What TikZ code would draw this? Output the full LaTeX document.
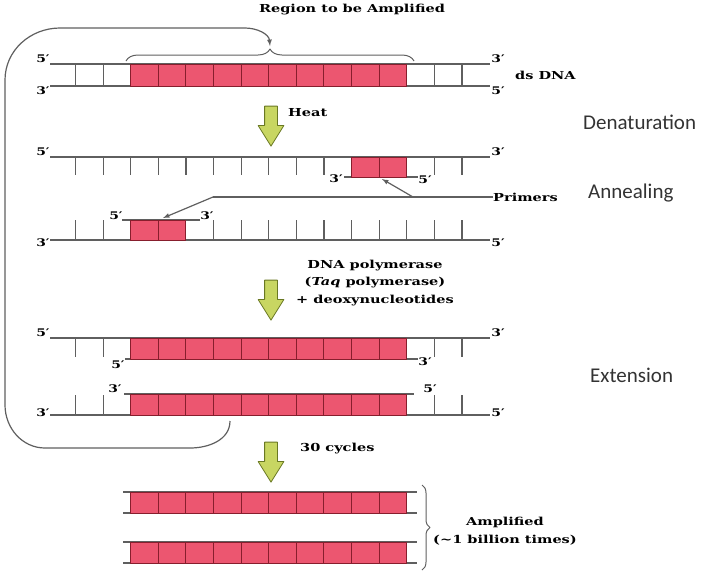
\documentclass[tikz,border=0pt]{standalone}
\usepackage{fontspec}
\setmainfont{DejaVu Serif}
\newfontfamily\notefont{DejaVu Serif}[FakeStretch=1.32]
\newfontfamily\stagefont{Carlito}
\usetikzlibrary{shapes.arrows,decorations.pathreplacing,arrows}

\definecolor{dnared}{RGB}{236,86,112}
\definecolor{dnaedge}{RGB}{135,30,45}
\definecolor{strandgray}{RGB}{95,95,95}
\definecolor{arrowfill}{RGB}{200,214,98}
\definecolor{arrowedge}{RGB}{105,120,35}

\tikzset{
  strand/.style={draw=strandgray, line width=1.2pt},
  seg/.style={draw=dnaedge, fill=dnared, line width=1pt},
  endlbl/.style={font=\notefont\bfseries\fontsize{10.5}{10.5}\selectfont, inner sep=0pt},
  note/.style={font=\notefont\bfseries\fontsize{11}{17.5}\selectfont, inner sep=0pt, align=center},
  stage/.style={font=\stagefont\fontsize{21}{21}\selectfont, text=black!80, inner sep=0pt, anchor=west},
  downarrow/.style={single arrow, draw=arrowedge, fill=arrowfill, line width=.8pt, rotate=-90,
    minimum height=40pt, minimum width=25pt, inner sep=6pt,
    single arrow head extend=6.5pt, single arrow tip angle=64},
}

\begin{document}
\begin{tikzpicture}[x=1pt, y=-1pt, line join=round]
\useasboundingbox (0,0) rectangle (723,582);

% ds DNA
\node[note] (region) at (352,10) {Region to be Amplified};
\draw[strand] (50,64) -- (490,64) (50,86) -- (490,86);
\foreach \n in {0,1,13,14} \draw[strand] ({75.5+27.6*\n},64) -- ++(0,22);
\foreach \n in {2,...,11} \draw[seg] ({75.5+27.6*\n},64) rectangle ++(27.6,22);
\node[endlbl] (dsL5) at (43,59) {5′};
\node[endlbl] (dsL3) at (43,91) {3′};
\node[endlbl] (dsR3) at (498,59) {3′};
\node[endlbl] (dsR5) at (498,91) {5′};
\node[note, anchor=west] (dsdna) at (515,75) {ds DNA};
\draw[strand, line width=1pt, decorate, decoration={brace, amplitude=12pt}] (126,61) -- (414,61);
\coordinate (bracetip) at (270,46);

% loop back
\coordinate (loopfoot) at (230,421);
\draw[strand, -latex] (loopfoot) to[out=-90,in=0] (190,448) -- (45,448)
  to[out=180,in=-90] (5,405) -- (5,80) to[out=90,in=180] (60,28) -- (245,28)
  to[out=0,in=95] (bracetip);

% heat
\node[downarrow] (heat) at (271,121) {};
\node[note, anchor=west] (heatlbl) at (288,113) {Heat};

% denatured strands
\draw[strand] (50,157) -- (490,157);
\foreach \n in {0,...,9,13,14} \draw[strand] ({75.5+27.6*\n},157) -- ++(0,18);
\draw[strand] (344,177) -- (418,177);
\foreach \n in {10,11} \draw[seg] ({75.5+27.6*\n},157) rectangle ++(27.6,20);
\node[endlbl] (d1L5) at (43,152) {5′};
\node[endlbl] (d1R3) at (498,152) {3′};
\node[endlbl] (p1L3) at (336,179) {3′};
\node[endlbl] (p1R5) at (425,180) {5′};

\draw[strand] (50,240) -- (490,240);
\foreach \n in {0,1,5,6,...,14} \draw[strand] ({75.5+27.6*\n},240) -- ++(0,-20);
\draw[strand] (122,220) -- (200,220);
\foreach \n in {2,3} \draw[seg] ({75.5+27.6*\n},220) rectangle ++(27.6,20);
\node[endlbl] (d2L3) at (43,243) {3′};
\node[endlbl] (d2R5) at (498,243) {5′};
\node[endlbl] (p2L5) at (116,216) {5′};
\node[endlbl] (p2R3) at (207,216) {3′};

% primers
\node[note, anchor=west] (primers) at (493,197) {Primers};
\coordinate (pjoin) at (413,197);
\coordinate (pfork) at (213,197);
\coordinate (primerA) at (382,179);
\coordinate (primerB) at (163,218);
\draw[strand] (primers.west) -- (pfork);
\draw[strand, -latex] (pjoin) -- (primerA);
\draw[strand, -latex] (pfork) -- (primerB);

% polymerase
\node[downarrow] (poly) at (271,295) {};
\node[note] (polylbl) at (375,283) {DNA polymerase\\(\textit{Taq} polymerase)\\+ deoxynucleotides};

% extension
\draw[strand] (50,338) -- (490,338);
\foreach \n in {0,1,13,14} \draw[strand] ({75.5+27.6*\n},338) -- ++(0,19);
\draw[strand] (125,359) -- (418,359);
\foreach \n in {2,...,11} \draw[seg] ({75.5+27.6*\n},338) rectangle ++(27.6,21);
\node[endlbl] (e1L5) at (43,333) {5′};
\node[endlbl] (e1R3) at (498,333) {3′};
\node[endlbl] (n1L5) at (118,365) {5′};
\node[endlbl] (n1R3) at (425,362) {3′};

\draw[strand] (50,415) -- (490,415);
\foreach \n in {0,1,13,14} \draw[strand] ({75.5+27.6*\n},415) -- ++(0,-20);
\draw[strand] (124,394) -- (414,394);
\foreach \n in {2,...,11} \draw[seg] ({75.5+27.6*\n},394) rectangle ++(27.6,21);
\node[endlbl] (e2L3) at (43,413) {3′};
\node[endlbl] (e2R5) at (498,413) {5′};
\node[endlbl] (n2L3) at (115,389) {3′};
\node[endlbl] (n2R5) at (430,389) {5′};

% cycles
\node[downarrow] (cycles) at (271,457) {};
\node[note, anchor=west] (cycleslbl) at (300,449) {30 cycles};

\foreach \y in {492,542} {
  \draw[strand] (123,\y) -- (417,\y) (123,\y+21) -- (417,\y+21);
  \foreach \n in {2,...,11} \draw[seg] ({75.5+27.6*\n},\y) rectangle ++(27.6,21);
}
\draw[strand, line width=1pt, decorate, decoration={brace, amplitude=8pt}] (422,485) -- (422,570);
\node[note] (amplified) at (505,531) {Amplified\\(\textasciitilde1 billion times)};

% stages
\node[stage] (denat) at (583,122) {Denaturation};
\node[stage] (anneal) at (588,193) {Annealing};
\node[stage] (extend) at (590,375) {Extension};

\end{tikzpicture}
\end{document}
